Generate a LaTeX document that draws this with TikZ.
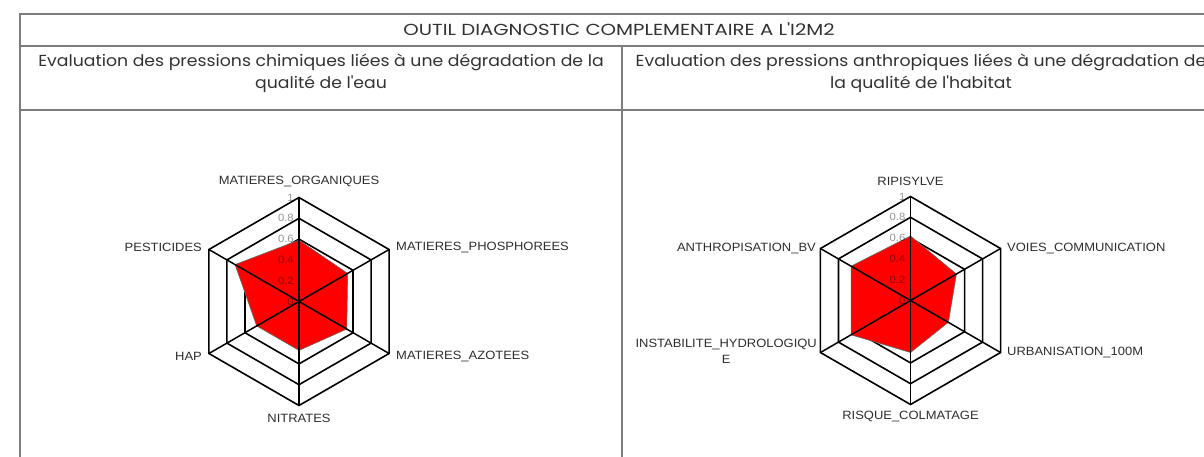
\documentclass[tikz,border=0pt]{standalone}
\usepackage{fontspec}
\setmainfont{Poppins}[FakeStretch=1.08]
\newfontfamily\titlefont{Poppins}[FakeStretch=1.23]
\newfontfamily\labfont{Liberation Sans}[FakeStretch=1.08]
\definecolor{tblgray}{RGB}{125,125,125}
\definecolor{headgray}{RGB}{50,50,50}
\definecolor{labgray}{RGB}{45,45,45}
\definecolor{chartred}{RGB}{255,0,0}
\begin{document}
\begin{tikzpicture}[x=1pt,y=-1pt,
  tbl/.style={draw=tblgray, line width=1.4pt},
  ring/.style={draw=black, line width=1.6pt, line join=miter},
  spoke/.style={draw=black, line width=1.5pt},
  serie/.style={fill=chartred, draw=black!60, line width=0.6pt},
  axlab/.style={font=\labfont\fontsize{12}{16}\selectfont, text=labgray, inner sep=1pt},
  tick/.style={font=\labfont\fontsize{10.5}{11}\selectfont, text=black, text opacity=0.42, anchor=east, inner sep=0pt},
  head/.style={font=\fontsize{16}{22}\selectfont, text=headgray, align=center}
]
\useasboundingbox (0,0) rectangle (1204,456);
\clip (0,0) rectangle (1204,456);
% ---------- table ----------
\draw[tbl] (20,470) -- (20,14) -- (1230,14);
\draw[tbl] (20,46) -- (1230,46);
\draw[tbl] (20,110) -- (1230,110);
\draw[tbl] (622,46) -- (622,470);
\node[head, font=\titlefont\fontsize{16}{22}\selectfont] (title) at (619,29.5) {OUTIL DIAGNOSTIC COMPLEMENTAIRE A L'I2M2};
\node[head] (hleft) at (321,73) {Evaluation des pressions chimiques liées à une dégradation de la\\qualité de l\textquotesingle eau};
\node[head] (hright) at (921,73) {Evaluation des pressions anthropiques liées à une dégradation de\\la qualité de l\textquotesingle habitat};
% ---------- left radar ----------
\begin{scope}[shift={(299,301.5)}]
  \foreach \r in {0.2,0.4,0.6,0.8,1.0}
    \draw[ring] (-90:\r*104) \foreach \k in {1,...,5}{ -- ({-90+60*\k}:\r*104)} -- cycle;
  \filldraw[serie] (-90:0.59*104) -- (-30:0.54*104) -- (30:0.53*104) -- (90:0.47*104) -- (150:0.47*104) -- (210:0.71*104) -- cycle;
  \foreach \k in {0,...,5} \draw[spoke] (0,0) -- ({-90+60*\k}:104);
  \foreach \v/\t [count=\i] in {0/0,0.2/0.2,0.4/0.4,0.6/0.6,0.8/0.8,1/1}
    \node[tick] (lt\i) at (-5,{-\v*104}) {\t};
\end{scope}
\node[axlab] (mo) at (299,181.5) {MATIERES\_ORGANIQUES};
\node[axlab, anchor=west] (mp) at (395,247) {MATIERES\_PHOSPHOREES};
\node[axlab, anchor=west] (ma) at (395,356) {MATIERES\_AZOTEES};
\node[axlab] (ni) at (299,418) {NITRATES};
\node[axlab, anchor=east] (hap) at (203,356) {HAP};
\node[axlab, anchor=east] (pe) at (203,247) {PESTICIDES};
% ---------- right radar ----------
\begin{scope}[shift={(910.5,300.5)}]
  \foreach \r in {0.2,0.4,0.6,0.8,1.0}
    \draw[ring] (-90:\r*104) \foreach \k in {1,...,5}{ -- ({-90+60*\k}:\r*104)} -- cycle;
  \filldraw[serie] (-90:0.62*104) -- (-30:0.51*104) -- (30:0.42*104) -- (90:0.50*104) -- (150:0.66*104) -- (210:0.66*104) -- cycle;
  \foreach \k in {0,...,5} \draw[spoke] (0,0) -- ({-90+60*\k}:104);
  \foreach \v/\t [count=\i] in {0/0,0.2/0.2,0.4/0.4,0.6/0.6,0.8/0.8,1/1}
    \node[tick] (rt\i) at (-5,{-\v*104}) {\t};
\end{scope}
\node[axlab] (ri) at (910.5,181.5) {RIPISYLVE};
\node[axlab, anchor=west] (vc) at (1006,248) {VOIES\_COMMUNICATION};
\node[axlab, anchor=west] (ur) at (1006,352) {URBANISATION\_100M};
\node[axlab] (rc) at (910.5,416) {RISQUE\_COLMATAGE};
\node[axlab, anchor=east, align=center] (ih) at (818,351) {INSTABILITE\_HYDROLOGIQU\\E};
\node[axlab, anchor=east] (ab) at (817,248) {ANTHROPISATION\_BV};
\end{tikzpicture}
\end{document}
